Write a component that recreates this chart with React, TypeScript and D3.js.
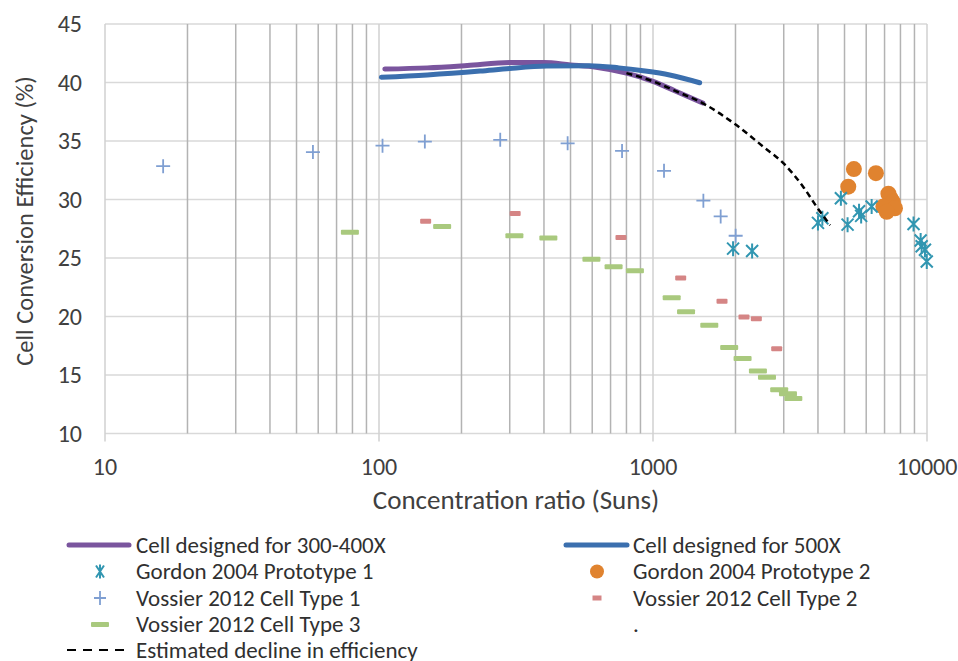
import React, { useEffect, useRef } from "react";
import * as d3 from "d3";

// ---- data ----
const cell300_400 = [
  [105, 41.15], [150, 41.25], [210, 41.45], [300, 41.7], [400, 41.7], [500, 41.5],
  [620, 41.3], [800, 40.8], [1000, 40.1], [1200, 39.3], [1520, 38.25],
];
const cell500 = [
  [102, 40.45], [150, 40.65], [234, 40.98], [300, 41.2], [410, 41.4], [585, 41.44],
  [750, 41.25], [920, 41.0], [1150, 40.64], [1480, 39.98],
];
const declineEst = [
  [800, 40.8], [1000, 40.1], [1200, 39.3], [1527, 38.2], [1990, 36.45], [2530, 34.5],
  [2990, 33.1], [3530, 31.1], [3950, 29.4], [4430, 27.8],
];
const gordon1 = [
  [1960, 25.8], [2300, 25.6], [4000, 28.0], [4150, 28.4], [4850, 30.1], [5130, 27.85],
  [5650, 29.0], [5750, 28.6], [6280, 29.4], [8930, 27.9], [9480, 26.5], [9560, 26.0],
  [9830, 25.7], [9980, 24.7],
];
const gordon2 = [
  [5410, 32.6], [6510, 32.25], [5160, 31.1], [7230, 30.5], [7370, 30.1], [7500, 29.8],
  [6930, 29.4], [7640, 29.25], [7130, 28.95],
];
const vossier1 = [
  [16.3, 32.85], [57.4, 34.05], [103, 34.6], [147, 34.95], [277, 35.1], [488, 34.8],
  [771, 34.15], [1097, 32.45], [1527, 29.9], [1766, 28.55], [2003, 26.9],
];
const vossier2 = [
  [148, 28.15], [314, 28.8], [764, 26.75], [1262, 23.3], [1786, 21.3], [2148, 19.95],
  [2383, 19.8], [2828, 17.25],
];
const vossier3 = [
  [78.3, 27.2], [170, 27.7], [312, 26.9], [415, 26.7], [596, 24.9], [718, 24.25],
  [859, 23.9], [1170, 21.6], [1320, 20.4], [1605, 19.25], [1897, 17.35], [2123, 16.4],
  [2415, 15.35], [2606, 14.8], [2888, 13.75], [3109, 13.4], [3252, 13.0],
];
const yTicks = [10, 15, 20, 25, 30, 35, 40, 45];
const xTicks = [10, 100, 1000, 10000];

const C = {
  purple: "#7a559e",
  blue: "#3b6fae",
  teal: "#3196b1",
  orange: "#e0832f",
  plus: "#7f9fd2",
  red: "#d58585",
  green: "#a9c97e",
};
const FONT = "Carlito, 'Liberation Sans Narrow', 'Open Sans', sans-serif";

export default function App() {
  const ref = useRef<SVGSVGElement>(null);

  useEffect(() => {
    const svg = d3.select(ref.current);
    svg.selectAll("*").remove();

    const x = d3.scaleLog().domain([10, 10000]).range([105, 927]);
    const y = d3.scaleLinear().domain([10, 45]).range([433.5, 24]);

    // gridlines
    const minor: number[] = [];
    [10, 100, 1000].forEach((d) => { for (let k = 2; k <= 9; k++) minor.push(d * k); });
    svg.append("g").selectAll("line").data(yTicks).join("line")
      .attr("x1", 105).attr("x2", 927)
      .attr("y1", (d) => y(d)).attr("y2", (d) => y(d))
      .attr("stroke", "#d9d9d9").attr("stroke-width", 1.5);
    svg.append("g").selectAll("line").data(minor).join("line")
      .attr("x1", (d) => x(d)).attr("x2", (d) => x(d))
      .attr("y1", y(45)).attr("y2", y(10))
      .attr("stroke", "#b3b3b3").attr("stroke-width", 1.5);
    svg.append("g").selectAll("line").data(xTicks).join("line")
      .attr("x1", (d) => x(d)).attr("x2", (d) => x(d))
      .attr("y1", y(45)).attr("y2", y(10) + 8)
      .attr("stroke", "#d0d0d0").attr("stroke-width", 1.5);

    // axis labels
    svg.append("g").selectAll("text").data(yTicks).join("text")
      .attr("x", 82).attr("y", (d) => y(d) + 8)
      .attr("text-anchor", "end").attr("font-size", 24).attr("fill", "#404040")
      .text((d) => d);
    svg.append("g").selectAll("text").data(xTicks).join("text")
      .attr("x", (d) => x(d)).attr("y", 475)
      .attr("text-anchor", "middle").attr("font-size", 24).attr("fill", "#404040")
      .text((d) => d);
    svg.append("text").attr("x", 516).attr("y", 509).attr("text-anchor", "middle")
      .attr("font-size", 27).attr("fill", "#404040").text("Concentration ratio (Suns)");
    svg.append("text").attr("transform", "translate(33,221) rotate(-90)")
      .attr("text-anchor", "middle").attr("font-size", 24.5).attr("fill", "#404040")
      .text("Cell Conversion Efficiency (%)");

    // markers
    const dash = (g: any, data: number[][], w: number, color: string) =>
      g.append("g").selectAll("rect").data(data).join("rect")
        .attr("x", (d: number[]) => x(d[0]) - w / 2).attr("y", (d: number[]) => y(d[1]) - 2.5)
        .attr("width", w).attr("height", 5).attr("rx", 1).attr("fill", color);
    dash(svg, vossier3, 18, C.green);
    dash(svg, vossier2, 11, C.red);

    const plusPath = "M-7,0H7M0,-7V7";
    svg.append("g").selectAll("path").data(vossier1).join("path")
      .attr("transform", (d) => `translate(${x(d[0])},${y(d[1])})`)
      .attr("d", plusPath).attr("stroke", C.plus).attr("stroke-width", 1.8).attr("fill", "none");

    const line = d3.line<number[]>().x((d) => x(d[0])).y((d) => y(d[1])).curve(d3.curveMonotoneX);
    svg.append("path").datum(cell300_400).attr("d", line).attr("fill", "none")
      .attr("stroke", C.purple).attr("stroke-width", 5).attr("stroke-linecap", "round");
    svg.append("path").datum(cell500).attr("d", line).attr("fill", "none")
      .attr("stroke", C.blue).attr("stroke-width", 5).attr("stroke-linecap", "round");

    svg.append("g").selectAll("circle").data(gordon2).join("circle")
      .attr("cx", (d) => x(d[0])).attr("cy", (d) => y(d[1])).attr("r", 8).attr("fill", C.orange);

    const starPath = "M-6,-6L6,6M-6,6L6,-6M0,-7.5V7.5";
    svg.append("g").selectAll("path").data(gordon1).join("path")
      .attr("transform", (d) => `translate(${x(d[0])},${y(d[1])})`)
      .attr("d", starPath).attr("stroke", C.teal).attr("stroke-width", 2).attr("fill", "none");

    svg.append("path").datum(declineEst).attr("d", line).attr("fill", "none")
      .attr("stroke", "#000").attr("stroke-width", 2.5).attr("stroke-dasharray", "6,4");

    // legend
    const lg = svg.append("g").attr("font-size", 23).attr("fill", "#303030");
    const rows = [545, 571.5, 598, 624.5, 650];
    const item = (cx: number, tx: number, ry: number, label: string, draw: (g: any) => void) => {
      const g = lg.append("g").attr("transform", `translate(${cx},${ry})`);
      draw(g);
      g.append("text").attr("x", tx).attr("y", 7.5).text(label);
    };
    item(100, 36, rows[0], "Cell designed for 300-400X", (g) =>
      g.append("line").attr("x1", -31).attr("x2", 29).attr("stroke", C.purple).attr("stroke-width", 5).attr("stroke-linecap", "round"));
    item(597, 36, rows[0], "Cell designed for 500X", (g) =>
      g.append("line").attr("x1", -31).attr("x2", 30).attr("stroke", C.blue).attr("stroke-width", 5).attr("stroke-linecap", "round"));
    item(100, 36, rows[1], "Gordon 2004 Prototype 1", (g) =>
      g.append("path").attr("d", "M-4,-6L4,6M-4,6L4,-6M0,-7V7").attr("stroke", C.teal).attr("stroke-width", 2).attr("fill", "none"));
    item(597, 36, rows[1], "Gordon 2004 Prototype 2", (g) =>
      g.append("circle").attr("r", 7).attr("fill", C.orange));
    item(100, 36, rows[2], "Vossier 2012 Cell Type 1", (g) =>
      g.append("path").attr("d", "M-6,0H6M0,-7V7").attr("stroke", C.plus).attr("stroke-width", 1.8));
    item(597, 36, rows[2], "Vossier 2012 Cell Type 2", (g) =>
      g.append("rect").attr("x", -4.5).attr("y", -2.5).attr("width", 9).attr("height", 5).attr("fill", C.red));
    item(100, 36, rows[3], "Vossier 2012 Cell Type 3", (g) =>
      g.append("rect").attr("x", -9).attr("y", -2.5).attr("width", 18).attr("height", 5).attr("rx", 1).attr("fill", C.green));
    item(597, 36, rows[3], ".", () => {});
    item(100, 36, rows[4], "Estimated decline in efficiency", (g) =>
      g.append("line").attr("x1", -33).attr("x2", 28).attr("stroke", "#000").attr("stroke-width", 2.2).attr("stroke-dasharray", "9,7"));
  }, []);

  return (
    <svg ref={ref} width={958} height={661}
      style={{ position: "absolute", left: 0, top: 0, background: "#fff", fontFamily: FONT }} />
  );
}
